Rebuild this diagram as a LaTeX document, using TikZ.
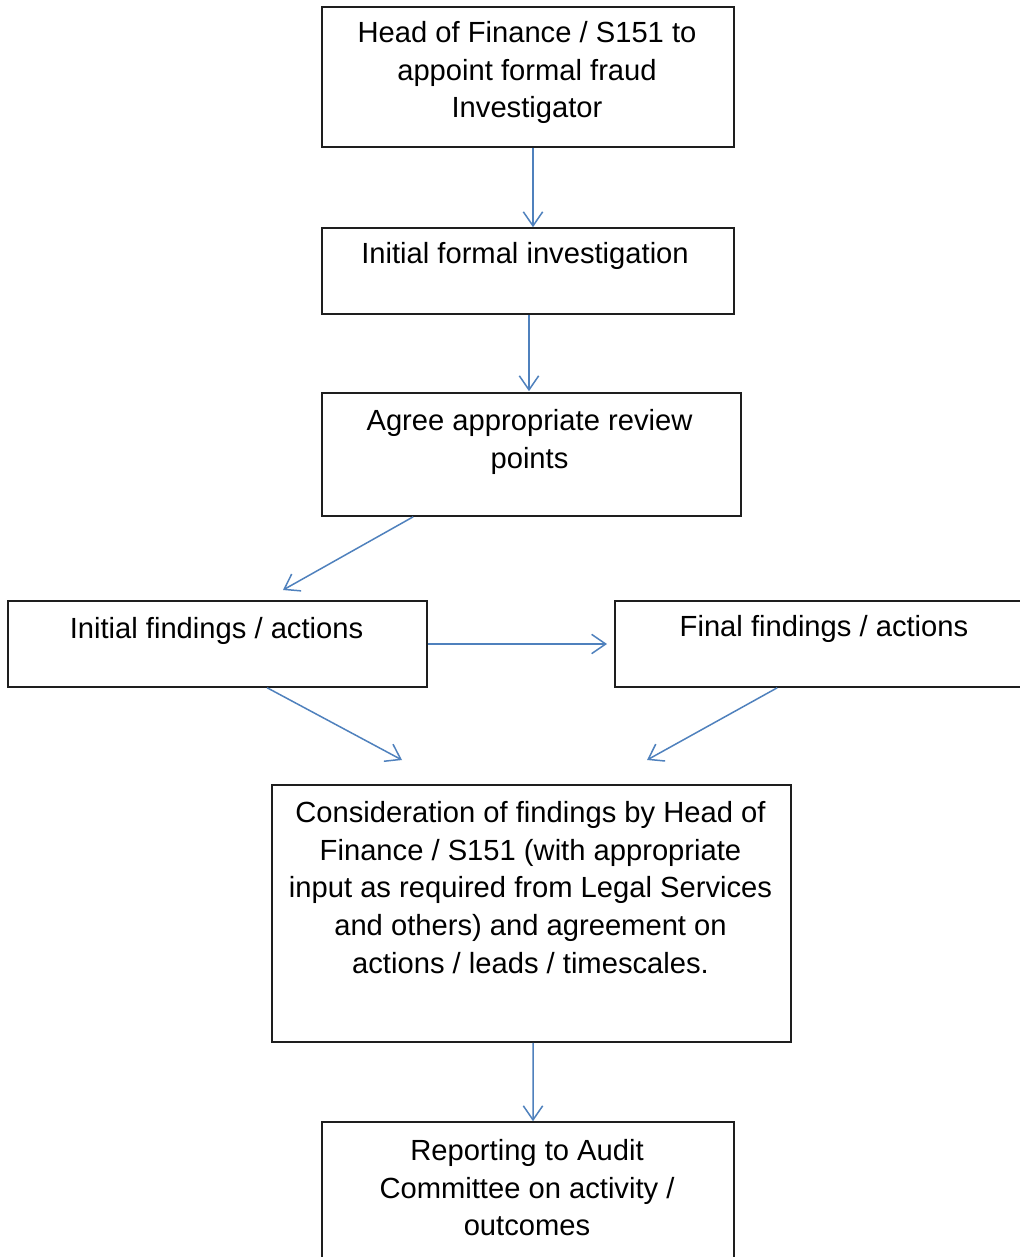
\documentclass[tikz,border=0pt]{standalone}
\usepackage{fontspec}
\setmainfont{Liberation Sans}
\usetikzlibrary{arrows.meta,calc}
\definecolor{arrowblue}{RGB}{79,129,189}
\definecolor{boxline}{RGB}{30,30,30}
\begin{document}
\begin{tikzpicture}[x=0.02cm,y=-0.02cm,
  box/.style={draw=boxline,line width=0.9pt,rectangle,inner sep=0pt},
  txt/.style={anchor=north,inner sep=0pt,align=center,font=\fontsize{16.6}{21.4}\selectfont},
  conn/.style={draw=arrowblue,line width=0.85pt,-{Straight Barb[length=8pt,width=11pt,line width=0.85pt]}}]
\path[use as bounding box,clip] (0,0) rectangle (1020,1257);
\fill[white] (0,0) rectangle (1020,1257);
% boxes
\node[box,minimum width=412*0.02cm,minimum height=140*0.02cm] (b1) at (528,77) {};
\node[box,minimum width=412*0.02cm,minimum height=86*0.02cm] (b2) at (528,271) {};
\node[box,minimum width=419*0.02cm,minimum height=123*0.02cm] (b3) at (531.5,454.5) {};
\node[box,minimum width=419*0.02cm,minimum height=86*0.02cm] (b4) at (217.5,644) {};
\node[box,minimum width=418*0.02cm,minimum height=86*0.02cm] (b5) at (824,644) {};
\node[box,minimum width=519*0.02cm,minimum height=257*0.02cm] (b6) at (531.5,913.5) {};
\node[box,minimum width=412*0.02cm,minimum height=180*0.02cm] (b7) at (528,1212) {};
% texts
\node[txt] (t1) at ($(b1.north)+(-1,15)$) {Head of Finance / S151 to\\appoint formal fraud\\Investigator};
\node[txt] (t2) at ($(b2.north)+(-3,15)$) {Initial formal investigation};
\node[txt] (t3) at ($(b3.north)+(-2,17)$) {Agree appropriate review\\points};
\node[txt] (t4) at ($(b4.north)+(-1,17)$) {Initial findings / actions};
\node[txt] (t5) at ($(b5.north)+(0,15)$) {Final findings / actions};
\node[txt] (t6) at ($(b6.north)+(-1,17)$) {Consideration of findings by Head of\\Finance / S151 (with appropriate\\input as required from Legal Services\\and others) and agreement on\\actions / leads / timescales.};
\node[txt] (t7) at ($(b7.north)+(-1,18)$) {Reporting to Audit\\Committee on activity /\\outcomes};
% connector end points
\coordinate (e3) at (283,590);
\coordinate (e45) at (607,644);
\coordinate (e46) at (402,760);
\coordinate (e56) at (647,760);
% connectors
\draw[conn] ($(b1.south)+(5,0)$) -- ($(b2.north)+(5,0)$);
\draw[conn] ($(b2.south)+(1,0)$) -- ($(b3.north)+(-2.5,-1)$);
\draw[conn] ($(b3.south west)+(92,0)$) -- (e3);
\draw[conn] (b4.east) -- (e45);
\draw[conn] ($(b4.south west)+(260,0)$) -- (e46);
\draw[conn] ($(b5.south west)+(163,0)$) -- (e56);
\draw[conn] ($(b6.south)+(1.5,0)$) -- ($(b7.north)+(5,0)$);
\end{tikzpicture}
\end{document}
